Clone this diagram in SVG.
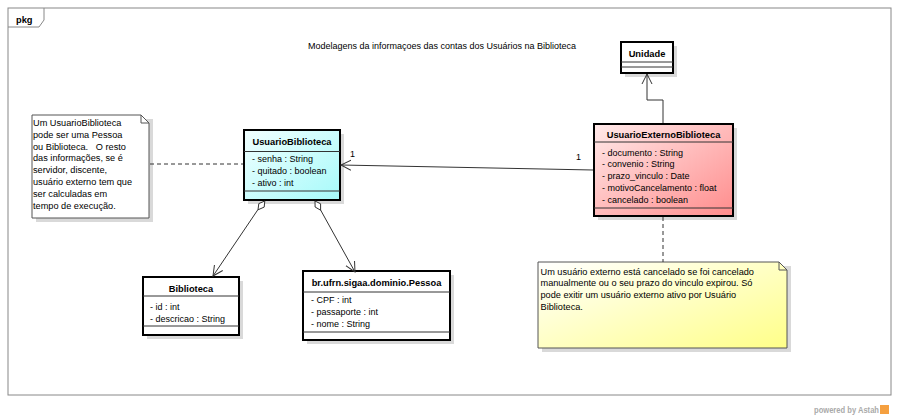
<svg xmlns="http://www.w3.org/2000/svg" width="899" height="419" viewBox="0 0 899 419">
<style>
text{font-family:"Liberation Sans",Arial,sans-serif;fill:#000}
.attr{font-size:9px}
.name{font-size:9.3px;font-weight:bold;text-anchor:middle}
.note{font-size:9.2px}
.box{stroke:#000;stroke-width:2}
.div{stroke:#333;stroke-width:1}
.shadow{fill:#d9d9d9}
.conn{stroke:#333;stroke-width:1;fill:none}
.dia{fill:#fff;stroke:#333;stroke-width:1}
.notebox{stroke:#555;stroke-width:1}
</style>
<defs>
<linearGradient id="gCyan" x1="0" y1="0" x2="1" y2="1">
<stop offset="0" stop-color="#f2ffff"/><stop offset="1" stop-color="#a6fafa"/>
</linearGradient>
<linearGradient id="gRed" x1="0" y1="0" x2="1" y2="1">
<stop offset="0" stop-color="#ffeaea"/><stop offset="1" stop-color="#ff8c8c"/>
</linearGradient>
<linearGradient id="gYellow" x1="0" y1="0" x2="1" y2="1">
<stop offset="0" stop-color="#ffffff"/><stop offset="1" stop-color="#ffff88"/>
</linearGradient>
<marker id="openArrow" markerUnits="userSpaceOnUse" markerWidth="12" markerHeight="12" refX="10" refY="5" orient="auto" viewBox="0 0 12 10">
<path d="M0,0 L10,5 L0,10" fill="none" stroke="#333" stroke-width="1"/>
</marker>
</defs>
<rect x="0" y="0" width="899" height="419" fill="#fff"/>

<g id="frame">
<rect x="8" y="8" width="883" height="387" fill="#fff" stroke="#888" stroke-width="1"/>
<path d="M8,27 L39,27 L44,20 L44,8" fill="none" stroke="#888" stroke-width="1"/>
<text x="16" y="22.5" style="font-size:9.3px;font-weight:bold">pkg</text>
</g>

<text x="442" y="48.5" class="attr" text-anchor="middle">Modelagens da informaçoes das contas dos Usuários na Biblioteca</text>

<g id="note1">
<rect x="36" y="119" width="117" height="103" class="shadow"/>
<path d="M32,115 L141,115 L149,123 L149,218 L32,218 Z" fill="#fff" class="notebox"/>
<path d="M141,115 L141,123 L149,123" fill="none" class="notebox"/>
<text class="note" x="33" y="126">Um UsuarioBiblioteca</text>
<text class="note" x="33" y="137.8">pode ser uma Pessoa</text>
<text class="note" x="33" y="149.6">ou Biblioteca. &#160; O resto</text>
<text class="note" x="33" y="161.4">das informações, se é</text>
<text class="note" x="33" y="173.2">servidor, discente,</text>
<text class="note" x="33" y="185">usuário externo tem que</text>
<text class="note" x="33" y="196.8">ser calculadas em</text>
<text class="note" x="33" y="208.6">tempo de execução.</text>
</g>

<g id="UsuarioBiblioteca">
<rect x="248" y="134" width="96" height="70" class="shadow"/>
<rect x="244" y="130" width="96" height="70" fill="url(#gCyan)" class="box"/>
<line x1="244" y1="151.5" x2="340" y2="151.5" class="div"/>
<line x1="244" y1="191" x2="340" y2="191" class="div"/>
<text class="name" x="292" y="144.5">UsuarioBiblioteca</text>
<text class="attr" x="252" y="161.5">- senha : String</text>
<text class="attr" x="252" y="173.5">- quitado : boolean</text>
<text class="attr" x="252" y="185.5">- ativo : int</text>
</g>

<g id="Unidade">
<rect x="625" y="46" width="52" height="31" class="shadow"/>
<rect x="621" y="42" width="52" height="31" fill="#fff" class="box"/>
<line x1="621" y1="62" x2="673" y2="62" class="div"/>
<line x1="621" y1="67" x2="673" y2="67" class="div"/>
<text class="name" x="647" y="56.5">Unidade</text>
</g>

<g id="UsuarioExternoBiblioteca">
<rect x="598" y="128" width="139" height="92" class="shadow"/>
<rect x="594" y="124" width="139" height="92" fill="url(#gRed)" class="box"/>
<line x1="594" y1="142" x2="733" y2="142" class="div"/>
<line x1="594" y1="208" x2="733" y2="208" class="div"/>
<text class="name" x="663.5" y="137.5">UsuarioExternoBiblioteca</text>
<text class="attr" x="602" y="155.5">- documento : String</text>
<text class="attr" x="602" y="167.3">- convenio : String</text>
<text class="attr" x="602" y="179">- prazo_vinculo : Date</text>
<text class="attr" x="602" y="190.8">- motivoCancelamento : float</text>
<text class="attr" x="602" y="202.5">- cancelado : boolean</text>
</g>

<g id="Biblioteca">
<rect x="147" y="281" width="96" height="58" class="shadow"/>
<rect x="143" y="277" width="96" height="58" fill="#fff" class="box"/>
<line x1="143" y1="296" x2="239" y2="296" class="div"/>
<line x1="143" y1="326" x2="239" y2="326" class="div"/>
<text class="name" x="191" y="291.5">Biblioteca</text>
<text class="attr" x="150" y="309.5">- id : int</text>
<text class="attr" x="150" y="321.5">- descricao : String</text>
</g>

<g id="Pessoa">
<rect x="307" y="275" width="147" height="69" class="shadow"/>
<rect x="303" y="271" width="147" height="69" fill="#fff" class="box"/>
<line x1="303" y1="292" x2="450" y2="292" class="div"/>
<line x1="303" y1="332" x2="450" y2="332" class="div"/>
<text class="name" x="376.5" y="285.5">br.ufrn.sigaa.dominio.Pessoa</text>
<text class="attr" x="311" y="302.8">- CPF : int</text>
<text class="attr" x="311" y="314.8">- passaporte : int</text>
<text class="attr" x="311" y="326.8">- nome : String</text>
</g>

<g id="note2">
<rect x="542" y="266" width="249" height="86" class="shadow"/>
<path d="M538,262 L779,262 L787,270 L787,348 L538,348 Z" fill="url(#gYellow)" class="notebox"/>
<path d="M779,262 L779,270 L787,270" fill="none" class="notebox"/>
<text class="note" x="540.5" y="274.5">Um usuário externo está cancelado se foi cancelado</text>
<text class="note" x="540.5" y="286.3">manualmente ou o seu prazo do vinculo expirou. Só</text>
<text class="note" x="540.5" y="298.1">pode exitir um usuário externo ativo por Usuário</text>
<text class="note" x="540.5" y="309.9">Biblioteca.</text>
</g>

<g id="connectors">
<line x1="150" y1="164" x2="243" y2="164" class="conn" stroke-dasharray="4,3"/>
<line x1="663" y1="217" x2="663" y2="262" class="conn" stroke-dasharray="4,3"/>
<line x1="593" y1="170" x2="341" y2="165" class="conn" marker-end="url(#openArrow)"/>
<polyline points="663,123 663,100 647,100 647,74" class="conn" marker-end="url(#openArrow)"/>
<line x1="258" y1="209.5" x2="213" y2="276" class="conn" marker-end="url(#openArrow)"/>
<polygon points="264.8,201 264.2,207.1 258,209.8 258.8,203.6" class="dia"/>
<line x1="320.6" y1="210" x2="355" y2="272" class="conn" marker-end="url(#openArrow)"/>
<polygon points="315,201 320.6,203.8 320.6,210.2 315.1,207" class="dia"/>
<text x="350" y="156.5" class="attr">1</text>
<text x="576" y="159.5" class="attr">1</text>
</g>

<g id="watermark">
<text x="814" y="413" textLength="65" lengthAdjust="spacingAndGlyphs" style="font-size:8.5px;font-weight:bold;fill:#aaaaaa">powered by Astah</text>
<rect x="880" y="405" width="9" height="9" fill="#f5a040"/>
</g>
</svg>
